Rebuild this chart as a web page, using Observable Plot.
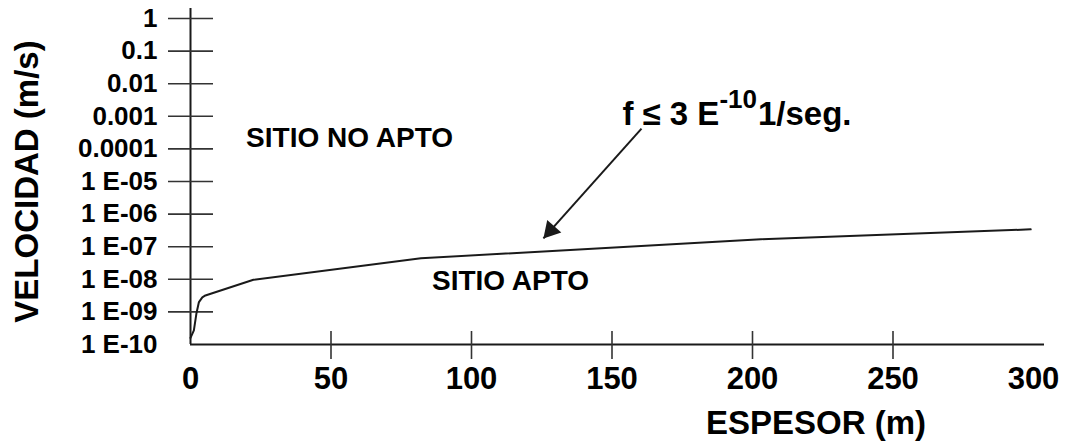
<!DOCTYPE html>
<html>
<head>
<meta charset="utf-8">
<script src="https://cdn.jsdelivr.net/npm/d3@7"></script>
<script src="https://cdn.jsdelivr.net/npm/@observablehq/plot@0.6"></script>
<style>
  html, body { margin: 0; padding: 0; background: #fff; }
  #chart svg { overflow: visible; display: block; }
</style>
</head>
<body>
<div id="chart"></div>
<script>
// ---- data ----
const espesor   = [0, 1.2, 2.1, 3.0, 4.2, 5.3, 22.4, 82, 203, 299];
const velocidad = [1.6e-10, 2.7e-10, 8.9e-10, 2.0e-9, 2.8e-9, 3.2e-9, 9.7e-9, 4.4e-8, 1.7e-7, 3.4e-7];

const xTicks = [0, 50, 100, 150, 200, 250, 300];
const xTickMarks = [50, 100, 150, 200, 250];
const yTicks = [1, 0.1, 0.01, 0.001, 0.0001, 1e-5, 1e-6, 1e-7, 1e-8, 1e-9, 1e-10];
const yTickLabels = ["1", "0.1", "0.01", "0.001", "0.0001", "1 E-05", "1 E-06", "1 E-07", "1 E-08", "1 E-09", "1 E-10"];

const xTitle = "ESPESOR (m)";
const yTitle = "VELOCIDAD (m/s)";

const regionLabels = ["SITIO NO APTO", "SITIO APTO"];
const regionX = [56.6, 113.9];
const regionY = [2.2e-4, 9.1e-9];

const formulaParts = ["f ≤ 3 E", "-10", "1/seg."];
const formulaX = [153.7];
const formulaY = [1.14e-3];
const arrowFrom = [160.5, 4.2e-4];
const arrowTo = [125.6, 1.8e-7];

// ---- build ----
const line = espesor.map((x, i) => ({x, y: velocidad[i]}));
const labelMap = new Map(yTicks.map((d, i) => [d, yTickLabels[i]]));
const regions = regionLabels.map((t, i) => ({t, x: regionX[i], y: regionY[i]}));
const arrow = [{x1: arrowFrom[0], y1: arrowFrom[1], x2: arrowTo[0], y2: arrowTo[1]}];

const ink = "#1a1a1a";

const chart = Plot.plot({
  width: 1066,
  height: 442,
  marginLeft: 190,
  marginRight: 33,
  marginTop: 18,
  marginBottom: 98,
  style: {fontFamily: "'Liberation Sans', Arial, Helvetica, sans-serif", fontWeight: "bold", fontSize: "24px", color: "#000", background: "#fff"},
  x: {domain: [0, 300]},
  y: {type: "log", domain: [1e-10, 1]},
  marks: [
    // axes lines
    Plot.ruleX([0], {x: d => d, y1: () => 1, y2: () => 1e-10, insetTop: -10, stroke: ink, strokeWidth: 2}),
    Plot.ruleY([1e-10], {y: d => d, x1: () => 0, x2: () => 300, insetRight: -11, stroke: ink, strokeWidth: 2}),
    // cross ticks on y
    Plot.ruleY(yTicks.slice(0, 10), {y: d => d, x1: () => 0, x2: () => 0, insetLeft: -22, insetRight: -23, stroke: "#333", strokeWidth: 1.6}),
    // cross ticks on x
    Plot.ruleX(xTickMarks, {x: d => d, y1: () => 1e-10, y2: () => 1e-10, insetTop: -13, insetBottom: -15, stroke: "#333", strokeWidth: 1.6}),
    Plot.axisY(yTicks, {tickSize: 0, tickPadding: 33, tickFormat: d => labelMap.get(d), label: null, fontSize: 26, fill: "#000"}),
    Plot.axisX(xTicks, {tickSize: 0, tickPadding: 22, tickFormat: d => String(d), label: null, fontSize: 31, fill: "#000"}),
    // data line
    Plot.line(line, {x: "x", y: "y", stroke: ink, strokeWidth: 2}),
    // region labels
    Plot.text(regions, {x: "x", y: "y", text: "t", fontSize: 28, fill: "#000"}),
    // arrow
    Plot.link(arrow, {x1: "x1", y1: "y1", x2: "x2", y2: "y2", stroke: ink, strokeWidth: 2}),
    Plot.dot(arrow, {x: "x2", y: "y2", symbol: "triangle", r: 7, fill: ink, stroke: "none", rotate: 221.7, dx: 7.2, dy: -8.1}),
    // formula
    Plot.text([formulaParts.join("")], {x: () => formulaX[0], y: () => formulaY[0], text: d => d, textAnchor: "start", lineAnchor: "middle", fontSize: 33, fill: "#000", className: "formula"}),
    // titles
    Plot.text([xTitle], {frameAnchor: "bottom", text: d => d, dx: 204, dy: 79, textAnchor: "middle", lineAnchor: "middle", fontSize: 33, fill: "#000"}),
    Plot.text([yTitle], {frameAnchor: "left", text: d => d, rotate: -90, dx: -163, textAnchor: "middle", lineAnchor: "middle", fontSize: 33, fill: "#000"})
  ]
});

document.getElementById("chart").appendChild(chart);

// superscript in formula
const ft = d3.select(chart).select("g.formula text");
ft.text(null);
ft.append("tspan").text(formulaParts[0]);
ft.append("tspan").attr("dy", -17).attr("font-size", 26).text(formulaParts[1]);
ft.append("tspan").attr("dy", 17).attr("dx", 1).text(formulaParts[2]);
</script>
</body>
</html>
